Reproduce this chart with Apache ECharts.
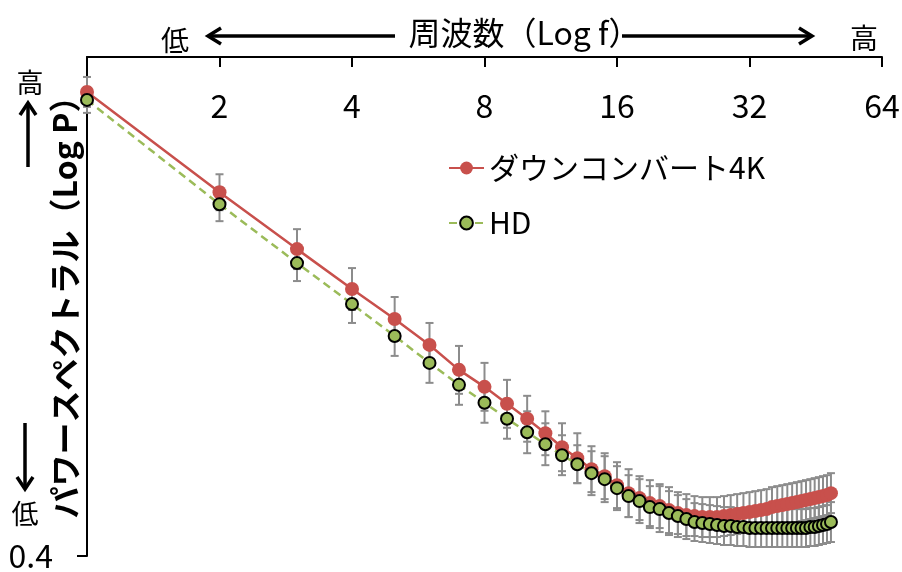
<!DOCTYPE html>
<html>
<head>
<meta charset="utf-8">
<script src="https://cdn.jsdelivr.net/npm/echarts@6/dist/echarts.min.js"></script>
<style>
  html, body { margin: 0; padding: 0; background: #fff; }
  #chart { width: 902px; height: 572px; }
</style>
</head>
<body>
<div id="chart"></div>
<script>
// Spatial frequency (cycles), log2 axis
const freq = [1, 2, 3, 4, 5, 6, 7, 8, 9, 10, 11, 12, 13, 14, 15, 16, 17, 18, 19, 20,
  21, 22, 23, 24, 25, 26, 27, 28, 29, 30, 31, 32, 33, 34, 35, 36, 37, 38, 39, 40,
  41, 42, 43, 44, 45, 46, 47, 48, 49];

// Power spectrum (log P) of the down-converted 4K image
const down4k = [9.70, 7.69, 6.55, 5.75, 5.15, 4.63, 4.13, 3.79, 3.45, 3.15,
  2.86, 2.58, 2.36, 2.14, 2.00, 1.82, 1.66, 1.56, 1.46, 1.40,
  1.32, 1.26, 1.22, 1.20, 1.18, 1.18, 1.18, 1.20, 1.22, 1.24,
  1.26, 1.28, 1.30, 1.32, 1.34, 1.38, 1.40, 1.42, 1.44, 1.46,
  1.48, 1.50, 1.52, 1.54, 1.56, 1.58, 1.60, 1.62, 1.66];
const down4kErr = [0.30, 0.36, 0.40, 0.42, 0.44, 0.44, 0.48, 0.48, 0.48, 0.46,
  0.44, 0.48, 0.50, 0.46, 0.46, 0.46, 0.48, 0.44, 0.46, 0.44,
  0.46, 0.42, 0.42, 0.40, 0.40, 0.40, 0.40, 0.40, 0.40, 0.40,
  0.40, 0.40, 0.40, 0.40, 0.40, 0.40, 0.40, 0.40, 0.40, 0.40,
  0.40, 0.40, 0.40, 0.40, 0.40, 0.40, 0.40, 0.40, 0.40];

// Power spectrum (log P) of the native HD image
const hd = [9.54, 7.45, 6.27, 5.45, 4.81, 4.27, 3.83, 3.47, 3.15, 2.88,
  2.64, 2.42, 2.24, 2.06, 1.94, 1.76, 1.60, 1.50, 1.38, 1.34,
  1.26, 1.20, 1.14, 1.08, 1.06, 1.04, 1.02, 1.00, 1.00, 0.98,
  0.98, 0.96, 0.96, 0.96, 0.96, 0.96, 0.96, 0.96, 0.96, 0.96,
  0.96, 0.96, 0.96, 0.98, 0.98, 1.00, 1.02, 1.04, 1.08];
const hdErr = [0.26, 0.34, 0.36, 0.38, 0.40, 0.40, 0.40, 0.40, 0.40, 0.42,
  0.42, 0.40, 0.38, 0.44, 0.46, 0.44, 0.42, 0.44, 0.42, 0.46,
  0.44, 0.42, 0.40, 0.38, 0.38, 0.38, 0.38, 0.38, 0.38, 0.38,
  0.38, 0.38, 0.38, 0.38, 0.38, 0.38, 0.38, 0.38, 0.38, 0.38,
  0.38, 0.38, 0.38, 0.38, 0.38, 0.38, 0.38, 0.38, 0.40];

const xTicks = [1, 2, 4, 8, 16, 32, 64];
const xTickLabels = [2, 4, 8, 16, 32, 64];
const yTicks = [0.4];

const FONT = '"Noto Sans CJK JP", "Noto Sans", sans-serif';
const ERR_COLOR = '#8c8c8c';

function errorBars(params, api) {
  const x = api.value(0), v = api.value(1), e = api.value(2);
  const top = api.coord([x, v + e]);
  const bot = api.coord([x, v - e]);
  const w = 4;
  const st = { stroke: ERR_COLOR, lineWidth: 2 };
  return {
    type: 'group',
    children: [
      { type: 'line', shape: { x1: top[0], y1: top[1], x2: bot[0], y2: bot[1] }, style: st },
      { type: 'line', shape: { x1: top[0] - w, y1: top[1], x2: top[0] + w, y2: top[1] }, style: st },
      { type: 'line', shape: { x1: bot[0] - w, y1: bot[1], x2: bot[0] + w, y2: bot[1] }, style: st }
    ]
  };
}

const chart = echarts.init(document.getElementById('chart'), null, { renderer: 'canvas' });

const arrowStyle = { stroke: '#000', lineWidth: 3.5 };

chart.setOption({
  backgroundColor: '#fff',
  animation: false,
  textStyle: { fontFamily: FONT },
  grid: { left: 87, top: 57, right: 20, bottom: 16, containLabel: false, outerBoundsMode: 'none' },
  legend: {
    orient: 'vertical',
    left: 443,
    top: 148,
    itemWidth: 35,
    itemHeight: 16,
    itemGap: 25,
    data: ['ダウンコンバート4K', 'HD'],
    textStyle: { fontSize: 30, color: '#000', fontFamily: FONT }
  },
  xAxis: {
    type: 'log',
    logBase: 2,
    min: 1,
    max: 64,
    position: 'top',
    name: '周波数（Log f）',
    nameLocation: 'middle',
    nameGap: 8,
    nameMoveOverlap: false,
    nameTextStyle: { fontSize: 32, color: '#000', fontFamily: FONT, padding: [0, 0, 0, 80] },
    axisLine: { show: true, lineStyle: { color: '#000', width: 2 } },
    axisTick: { show: true, inside: true, length: 10, lineStyle: { color: '#000', width: 2 }, customValues: xTicks },
    axisLabel: { inside: true, margin: 33, fontSize: 32, color: '#000', customValues: xTickLabels },
    splitLine: { show: false },
    minorTick: { show: false }
  },
  yAxis: {
    type: 'value',
    min: 0.4,
    max: 10.4,
    name: 'パワースペクトラル（Log P）',
    nameLocation: 'middle',
    nameRotate: 90,
    nameGap: 6,
    nameMoveOverlap: false,
    nameTextStyle: { fontSize: 32, fontWeight: 'bold', color: '#000', fontFamily: FONT, padding: [0, 0, 0, 14] },
    axisLine: { show: true, lineStyle: { color: '#000', width: 2 } },
    axisTick: { show: true, length: 10, lineStyle: { color: '#000', width: 2 }, customValues: yTicks },
    axisLabel: { margin: 34, fontSize: 32, color: '#000', customValues: yTicks, padding: [12, 0, 0, 0] },
    splitLine: { show: false }
  },
  graphic: [
    // frequency direction arrows along the top
    { type: 'line', shape: { x1: 395, y1: 36, x2: 209, y2: 36 }, style: arrowStyle },
    { type: 'polyline', shape: { points: [[221, 28], [208, 36], [221, 44]] }, style: arrowStyle },
    { type: 'line', shape: { x1: 622, y1: 36, x2: 811, y2: 36 }, style: arrowStyle },
    { type: 'polyline', shape: { points: [[799, 28], [812, 36], [799, 44]] }, style: arrowStyle },
    { type: 'text', x: 175, y: 40, style: { text: '低', font: '28px ' + FONT, fill: '#000', align: 'center', verticalAlign: 'middle' } },
    { type: 'text', x: 864, y: 38, style: { text: '高', font: '28px ' + FONT, fill: '#000', align: 'center', verticalAlign: 'middle' } },
    // power direction arrows on the left
    { type: 'line', shape: { x1: 28, y1: 167, x2: 28, y2: 104 }, style: arrowStyle },
    { type: 'polyline', shape: { points: [[20, 115], [28, 103], [36, 115]] }, style: arrowStyle },
    { type: 'line', shape: { x1: 25, y1: 423, x2: 25, y2: 488 }, style: arrowStyle },
    { type: 'polyline', shape: { points: [[17, 477], [25, 489], [33, 477]] }, style: arrowStyle },
    { type: 'text', x: 30, y: 83, style: { text: '高', font: '27px ' + FONT, fill: '#000', align: 'center', verticalAlign: 'middle' } },
    { type: 'text', x: 25, y: 514, style: { text: '低', font: '27px ' + FONT, fill: '#000', align: 'center', verticalAlign: 'middle' } }
  ],
  series: [
    {
      type: 'custom',
      name: 'err4k',
      renderItem: errorBars,
      data: freq.map((f, i) => [f, down4k[i], down4kErr[i]]),
      encode: { x: 0, y: 1 },
      z: 1,
      silent: true
    },
    {
      type: 'custom',
      name: 'errHD',
      renderItem: errorBars,
      data: freq.map((f, i) => [f, hd[i], hdErr[i]]),
      encode: { x: 0, y: 1 },
      z: 1,
      silent: true
    },
    {
      type: 'line',
      name: 'ダウンコンバート4K',
      data: freq.map((f, i) => [f, down4k[i]]),
      symbol: 'circle',
      symbolSize: 14,
      itemStyle: { color: '#C8504C' },
      lineStyle: { color: '#C8504C', width: 2.5 },
      z: 3
    },
    {
      type: 'line',
      name: 'HD',
      data: freq.map((f, i) => [f, hd[i]]),
      symbol: 'circle',
      symbolSize: 12,
      itemStyle: { color: '#9BBB59', borderColor: '#000', borderWidth: 2 },
      lineStyle: { color: '#9BBB59', width: 2.5, type: [8, 5] },
      z: 4
    }
  ]
});
</script>
</body>
</html>
